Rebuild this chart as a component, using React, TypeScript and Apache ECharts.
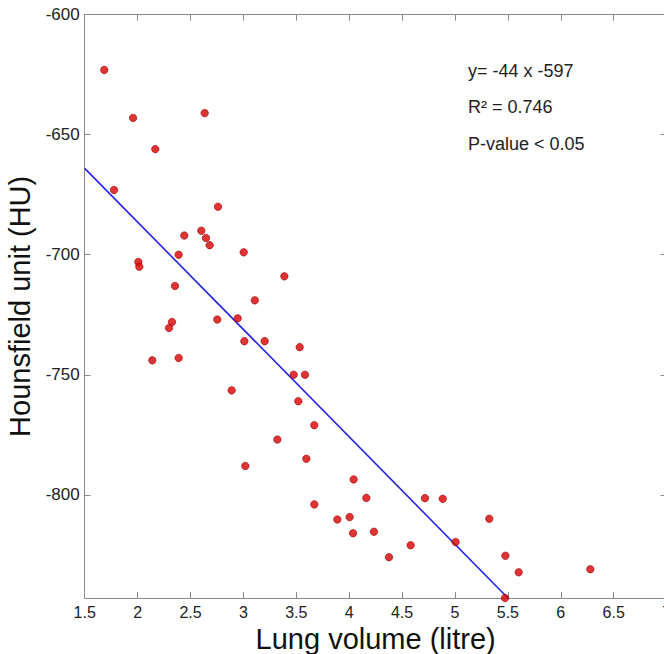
import React, { useEffect, useRef } from "react";
import * as echarts from "echarts";

const lungVolume = [
  1.685, 1.957, 2.634, 2.167, 1.777, 2.76, 2.441, 2.602, 2.646, 2.681,
  2.388, 3.003, 2.007, 2.016, 3.387, 2.353, 3.108, 2.753, 2.946, 2.325,
  2.297, 3.009, 3.201, 3.532, 2.139, 2.388, 3.475, 3.582, 2.889, 3.519,
  3.67, 3.321, 3.595, 3.018, 4.042, 4.162, 3.67, 4.716, 4.884, 3.888,
  4.004, 5.324, 4.036, 4.234, 4.581, 5.006, 4.376, 5.476, 5.602, 6.279,
  5.473,
];
const hounsfield = [
  -623, -643, -641, -656, -673, -680, -692, -690, -693, -696,
  -700, -699, -703, -705, -709, -713, -719, -727, -726.5, -728,
  -730.5, -736, -736, -738.5, -744, -743, -750, -750, -756.5, -761,
  -771, -777, -785, -788, -793.6, -801.3, -804, -801.4, -801.7, -810.3,
  -809.3, -810, -816, -815.4, -821, -819.7, -826, -825.4, -832.3, -831,
  -843,
];
const fitLineX = [1.5, 5.5];
const fitLineY = [-664, -843];
const yTickValues = [-800, -750, -700, -650, -600];
const annotations = ["y= -44 x -597", "R\u00b2 = 0.746", "P-value < 0.05"];

const FONT = "'Liberation Sans', Arial, sans-serif";

export default function App() {
  const ref = useRef<HTMLDivElement>(null);
  useEffect(() => {
    if (!ref.current) return;
    const chart = echarts.init(ref.current, null, { renderer: "svg" });
    const axisColor = "#8a8a8a";
    const points = lungVolume.map((x, i) => [x, hounsfield[i]]);
    const line = fitLineX.map((x, i) => [x, fitLineY[i]]);
    const xBase = {
      type: "value",
      min: 1.5,
      max: 7,
      interval: 0.5,
      axisLine: { show: true, onZero: false, lineStyle: { color: axisColor, width: 1 } },
      axisTick: { show: true, inside: true, length: 6, lineStyle: { color: axisColor } },
      splitLine: { show: false },
    };
    const yBase = {
      type: "value",
      min: -843,
      max: -600,
      axisLine: { show: true, onZero: false, lineStyle: { color: axisColor, width: 1 } },
      axisTick: {
        show: true,
        inside: true,
        length: 6,
        customValues: yTickValues,
        lineStyle: { color: axisColor },
      },
      splitLine: { show: false },
    };
    chart.setOption({
      animation: false,
      backgroundColor: "#ffffff",
      grid: {
        left: 84.7,
        right: -2.6,
        top: 14.7,
        bottom: 56,
        containLabel: false,
        outerBoundsMode: "none",
      },
      xAxis: [
        {
          ...xBase,
          position: "bottom",
          name: "Lung volume (litre)",
          nameLocation: "middle",
          nameGap: 19,
          nameTextStyle: { fontFamily: FONT, fontSize: 29, color: "#111" },
          axisLabel: {
            show: true,
            margin: 6,
            fontFamily: FONT,
            fontSize: 16,
            color: "#222",
            showMaxLabel: true,
            showMinLabel: true,
          },
        },
        { ...xBase, position: "top", axisLabel: { show: false } },
      ],
      yAxis: [
        {
          ...yBase,
          position: "left",
          name: "Hounsfield unit (HU)",
          nameLocation: "middle",
          nameGap: 42,
          nameTextStyle: { fontFamily: FONT, fontSize: 29, color: "#111" },
          axisLabel: {
            show: true,
            margin: 5,
            customValues: yTickValues,
            fontFamily: FONT,
            fontSize: 17,
            color: "#222",
          },
        },
        { ...yBase, position: "right", axisLabel: { show: false } },
      ],
      series: [
        {
          type: "line",
          data: line,
          symbol: "none",
          lineStyle: { color: "#2424e6", width: 1.6 },
          z: 2,
        },
        {
          type: "scatter",
          data: points,
          symbol: "circle",
          symbolSize: 7.5,
          clip: false,
          itemStyle: { color: "#d80000", borderColor: "#990000", borderWidth: 0.7 },
          z: 3,
        },
      ],
      graphic: annotations.map((t, i) => ({
        type: "text",
        left: 468,
        top: [62, 98, 135][i],
        style: { text: t, font: `18px ${FONT}`, fill: "#222" },
      })),
    });
    return () => chart.dispose();
  }, []);
  return (
    <div
      ref={ref}
      style={{ position: "absolute", left: 0, top: 0, width: 664, height: 654 }}
    />
  );
}
